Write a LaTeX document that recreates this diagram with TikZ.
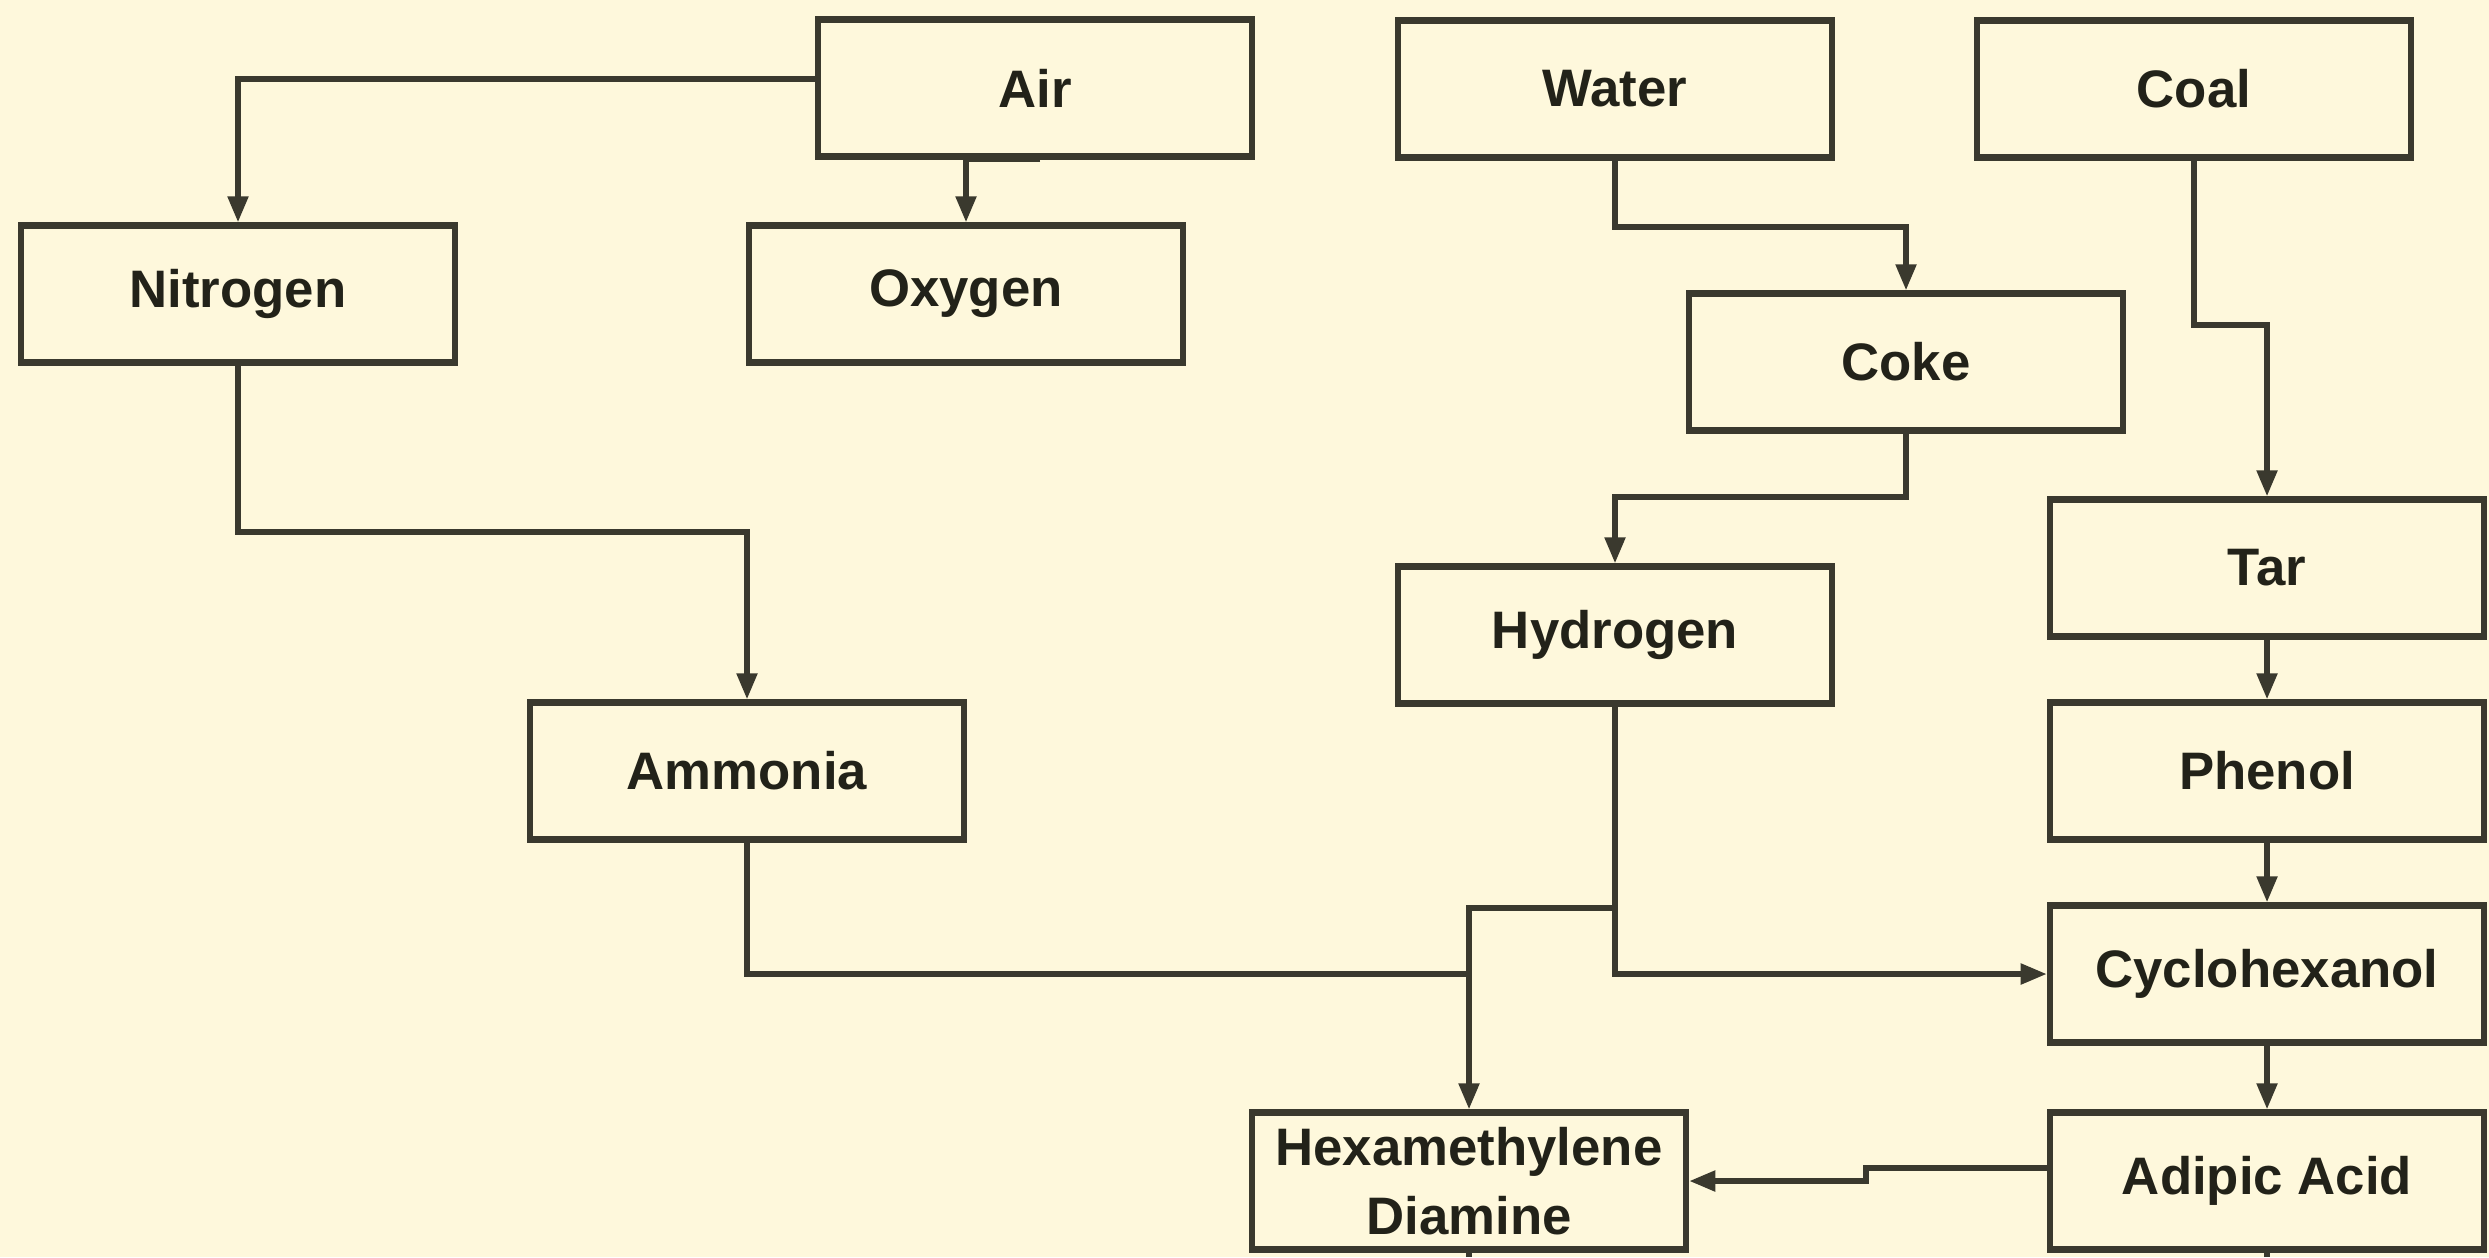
\documentclass[tikz,border=0pt]{standalone}
\usepackage{fontspec}
\setmainfont{Liberation Sans}
\usetikzlibrary{arrows.meta}
\definecolor{bg}{HTML}{FEF8DC}
\definecolor{ink}{HTML}{3A392E}
\definecolor{txt}{HTML}{222219}
\begin{document}
\begin{tikzpicture}[x=0.01cm,y=-0.01cm,
  box/.style={draw=ink,line width=1.8pt,fill=bg,minimum width=4.34cm,minimum height=1.37cm,
    inner sep=0pt,text=txt,font=\bfseries\fontsize{15}{19.5}\selectfont,align=center},
  conn/.style={draw=ink,line width=1.5pt},
  arr/.style={conn,-{Triangle[length=0.26cm,width=0.2cm]}}]
\fill[bg] (0,0) rectangle (2489,1257);
\useasboundingbox (0,0) rectangle (2489,1257);
\node[box] (Air) at (1035,88) {Air};
\node[box] (Water) at (1615,89) {Water};
\node[box] (Coal) at (2194,89) {Coal};
\node[box] (Nitrogen) at (238,294) {Nitrogen};
\node[box] (Oxygen) at (966,294) {Oxygen};
\node[box] (Coke) at (1906,362) {Coke};
\node[box] (Tar) at (2267,568) {Tar};
\node[box] (Hydrogen) at (1615,635) {Hydrogen};
\node[box] (Ammonia) at (747,771) {Ammonia};
\node[box] (Phenol) at (2267,771) {Phenol};
\node[box] (Cyclo) at (2267,974) {Cyclohexanol};
\node[box] (HD) at (1469,1181) {Hexamethylene\\Diamine};
\node[box] (AA) at (2267,1181) {Adipic Acid};
\coordinate (aj) at (1866,1181);
% connectors
\draw[arr] ([yshift=0.09cm]Air.west) -| (Nitrogen.north);
\draw[arr] ([xshift=0.05cm]Air.south) -| (Oxygen.north);
\draw[arr] (Nitrogen.south) -- (Nitrogen.south |- 0,532) -| (Ammonia.north);
\draw[arr] (Water.south) -- (Water.south |- 0,227) -| (Coke.north);
\draw[arr] (Coal.south) -- (Coal.south |- 0,325) -| (Tar.north);
\draw[arr] (Coke.south) -- (Coke.south |- 0,497) -| (Hydrogen.north);
\draw[arr] (Tar) -- (Phenol);
\draw[arr] (Phenol) -- (Cyclo);
\draw[arr] (Cyclo) -- (AA);
\draw[arr] (Hydrogen.south) |- (Cyclo.west);
\draw[arr] (Hydrogen.south |- 0,908) -| (HD.north);
\draw[conn] (Ammonia.south) |- (HD.north |- Cyclo.west);
\draw[arr] ([yshift=0.13cm]AA.west) -| (aj) -- (HD.east);
\draw[conn] (HD.south) -- (HD.south |- 0,1257);
\draw[conn] (AA.south) -- (AA.south |- 0,1257);
\end{tikzpicture}
\end{document}
